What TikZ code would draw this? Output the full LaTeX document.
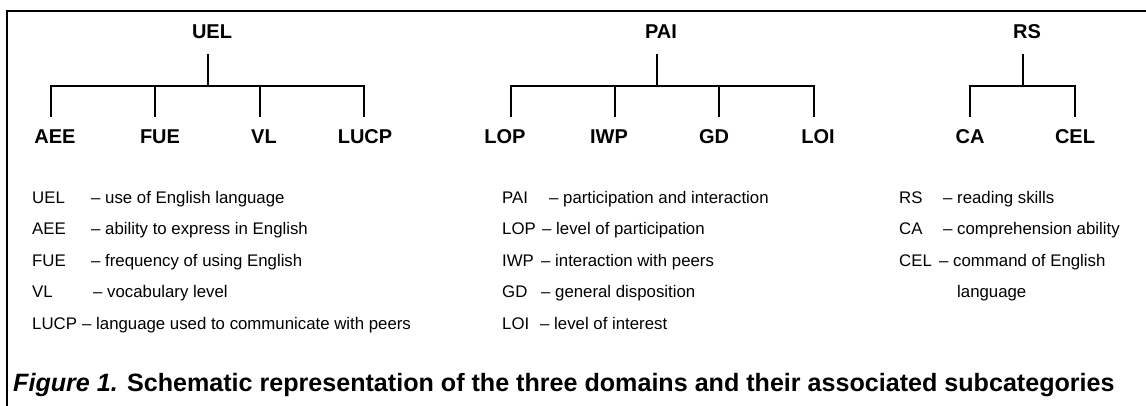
\documentclass[tikz,border=0pt]{standalone}
\usepackage{fontspec}
\setmainfont{Liberation Sans}
\begin{document}
\begin{tikzpicture}[x=1pt,y=-1pt,
  head/.style={font=\fontsize{20}{24}\selectfont\bfseries, inner sep=0pt, text height=14.3pt, text depth=0pt, anchor=base},
  leaf/.style={font=\fontsize{20}{24}\selectfont\bfseries, inner sep=0pt, text height=14.3pt, text depth=0pt, anchor=base},
  lg/.style={font=\fontsize{16.8}{20}\selectfont, inner sep=0pt, anchor=base west},
  captionstyle/.style={font=\fontsize{25.1}{29}\selectfont\bfseries, inner sep=0pt, anchor=base west},
  framestyle/.style={line width=1.6pt},
  tree/.style={line width=1.15pt}]
\useasboundingbox (0,0) rectangle (1146,406);
% frame
\coordinate (fb) at (7,406);
\coordinate (fc) at (7,11);
\coordinate (fr) at (1146,11);
\draw[framestyle] (fb) -- (fc) -- (fr);
% UEL tree
\node[head] (UEL) at (212,39) {UEL};
\node[leaf] (AEE) at (55,144) {AEE};
\node[leaf] (FUE) at (160,144) {FUE};
\node[leaf] (VL) at (264,144) {VL};
\node[leaf] (LUCP) at (365,144) {LUCP};
\draw[tree] ([shift={(-4,15)}]UEL.base) -- ++(0,32) coordinate (uj);
\draw[tree] (uj) -| ([shift={(-4,-27)}]AEE.base);
\draw[tree] (uj) -| ([shift={(-5,-27)}]FUE.base);
\draw[tree] (uj) -| ([shift={(-4,-27)}]VL.base);
\draw[tree] (uj) -| ([shift={(-1,-27)}]LUCP.base);
% PAI tree
\node[head] (PAI) at (661,39) {PAI};
\node[leaf] (LOP) at (505,144) {LOP};
\node[leaf] (IWP) at (609,144) {IWP};
\node[leaf] (GD) at (714,144) {GD};
\node[leaf] (LOI) at (818,144) {LOI};
\draw[tree] ([shift={(-4,15)}]PAI.base) -- ++(0,32) coordinate (pj);
\draw[tree] (pj) -| ([shift={(6,-27)}]LOP.base);
\draw[tree] (pj) -| ([shift={(6,-27)}]IWP.base);
\draw[tree] (pj) -| ([shift={(5,-27)}]GD.base);
\draw[tree] (pj) -| ([shift={(-4,-27)}]LOI.base);
% RS tree
\node[head] (RS) at (1027,39) {RS};
\node[leaf] (CA) at (970,144) {CA};
\node[leaf] (CEL) at (1075,144) {CEL};
\draw[tree] ([shift={(-4,15)}]RS.base) -- ++(0,32) coordinate (rj);
\draw[tree] (rj) -| ([shift={(0,-27)}]CA.base);
\draw[tree] (rj) -| ([shift={(0,-27)}]CEL.base);
% legend UEL
\node[lg] (l1) at (32,204) {UEL};  \node[lg] (d1) at (91,204) {– use of English language};
\node[lg] (l2) at (32,235) {AEE};  \node[lg] (d2) at (91,235) {– ability to express in English};
\node[lg] (l3) at (32,266) {FUE};  \node[lg] (d3) at (91,266) {– frequency of using English};
\node[lg] (l4) at (32,297) {VL};   \node[lg] (d4) at (93,297) {– vocabulary level};
\node[lg] (l5) at (32,329) {LUCP}; \node[lg] (d5) at (82,329) {– language used to communicate with peers};
% legend PAI
\node[lg] (m1) at (502,204) {PAI}; \node[lg] (e1) at (549,204) {– participation and interaction};
\node[lg] (m2) at (502,235) {LOP}; \node[lg] (e2) at (542,235) {– level of participation};
\node[lg] (m3) at (502,266) {IWP}; \node[lg] (e3) at (541,266) {– interaction with peers};
\node[lg] (m4) at (502,297) {GD};  \node[lg] (e4) at (541,297) {– general disposition};
\node[lg] (m5) at (502,329) {LOI}; \node[lg] (e5) at (540,329) {– level of interest};
% legend RS
\node[lg] (n1) at (899,204) {RS};  \node[lg] (f1) at (943,204) {– reading skills};
\node[lg] (n2) at (899,235) {CA};  \node[lg] (f2) at (943,235) {– comprehension ability};
\node[lg] (n3) at (899,266) {CEL}; \node[lg] (f3) at (939,266) {– command of English};
\node[lg] (f4) at (957,297) {language};
% caption
\node[captionstyle] (caption) at (13,391) {{\itshape Figure 1.} Schematic representation of the three domains and their associated subcategories};
\end{tikzpicture}
\end{document}
